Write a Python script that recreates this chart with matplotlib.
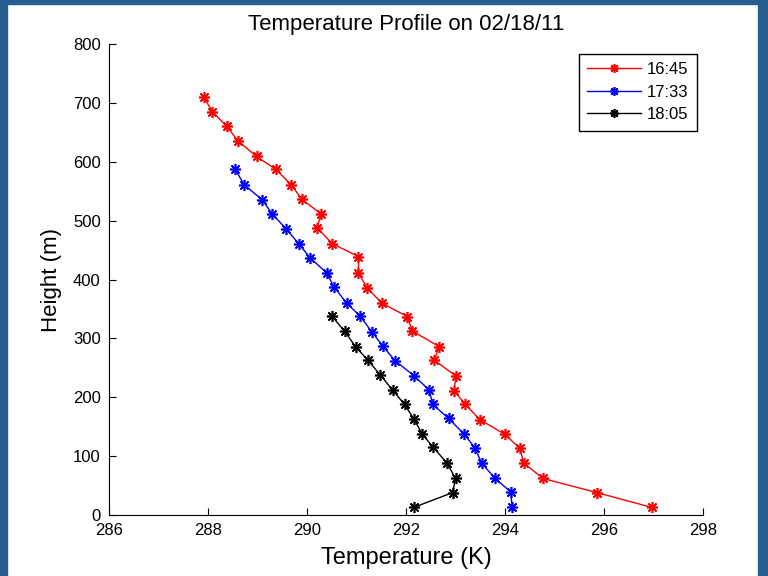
import matplotlib.pyplot as plt
from matplotlib.patches import Rectangle

plt.rcParams['font.family'] = ['Liberation Sans Narrow', 'Liberation Sans', 'DejaVu Sans']

# temperature (K) and height (m) for each launch time
t_1645 = [287.91, 288.09, 288.38, 288.60, 288.98, 289.37, 289.68, 289.90, 290.29, 290.20,
          290.51, 291.04, 291.04, 291.21, 291.51, 292.03, 292.12, 292.67, 292.57, 293.01,
          292.97, 293.20, 293.49, 294.00, 294.30, 294.38, 294.77, 295.86, 296.96]
h_1645 = [710, 685, 660, 636, 609, 587, 561, 536, 511, 488,
          461, 439, 411, 386, 360, 337, 313, 286, 263, 236,
          211, 188, 162, 137, 113, 88, 62, 38, 13]

t_1733 = [288.55, 288.73, 289.10, 289.29, 289.58, 289.84, 290.06, 290.40, 290.54, 290.80,
          291.07, 291.31, 291.53, 291.78, 292.17, 292.47, 292.54, 292.86, 293.18, 293.39,
          293.53, 293.80, 294.12, 294.14]
h_1733 = [587, 561, 535, 512, 486, 460, 437, 411, 388, 360,
          338, 311, 287, 262, 236, 212, 188, 164, 137, 114,
          88, 62, 39, 13]

t_1805 = [290.50, 290.76, 290.98, 291.23, 291.48, 291.73, 291.97, 292.16, 292.33, 292.55,
          292.83, 293.00, 292.94, 292.16]
h_1805 = [338, 312, 286, 263, 238, 212, 188, 163, 137, 115,
          88, 62, 38, 13]

labels = ['16:45', '17:33', '18:05']

fig = plt.figure(figsize=(7.68, 5.76), dpi=100)
# dark blue frame around the figure
frame = '#285d8f'
fig.patches.append(Rectangle((0, 0), 7 / 768, 1, transform=fig.transFigure, color=frame, zorder=-1))
fig.patches.append(Rectangle((758 / 768, 0), 10 / 768, 1, transform=fig.transFigure, color=frame, zorder=-1))
fig.patches.append(Rectangle((0, 1 - 4 / 576), 1, 4 / 576, transform=fig.transFigure, color=frame, zorder=-1))

ax = fig.add_axes([109 / 768, 1 - 515 / 576, (703 - 109) / 768, (515 - 44) / 576])

star = (8, 2, 0)  # matlab style asterisk
ax.plot(t_1645, h_1645, '-', marker=star, color='red', lw=1, ms=8, mew=1.2, label=labels[0])
ax.plot(t_1733, h_1733, '-', marker=star, color='blue', lw=1, ms=8, mew=1.2, label=labels[1])
ax.plot(t_1805, h_1805, '-', marker=star, color='black', lw=1, ms=8, mew=1.2, label=labels[2])

ax.set_xlim(286, 298)
ax.set_ylim(0, 800)
ax.set_xticks(range(286, 299, 2))
ax.set_yticks(range(0, 801, 100))
ax.spines['top'].set_visible(False)
ax.spines['right'].set_visible(False)
ax.tick_params(direction='in', labelsize=12, length=5)
ax.tick_params(axis='x', pad=6)
ax.tick_params(axis='y', pad=6)

ax.set_title('Temperature Profile on 02/18/11', fontsize=16, pad=10)
ax.set_xlabel('Temperature (K)', fontsize=17, labelpad=6)
ax.set_ylabel('Height (m)', fontsize=16, labelpad=8)

leg = ax.legend(loc='upper right', bbox_to_anchor=(0.99, 0.979), borderaxespad=0, fontsize=12,
                fancybox=False, edgecolor='black', framealpha=1, handlelength=3.2,
                handletextpad=0.4, labelspacing=0.45, borderpad=0.5, markerscale=0.8)
leg.get_frame().set_linewidth(1)

fig.savefig('out.png', dpi=100)
